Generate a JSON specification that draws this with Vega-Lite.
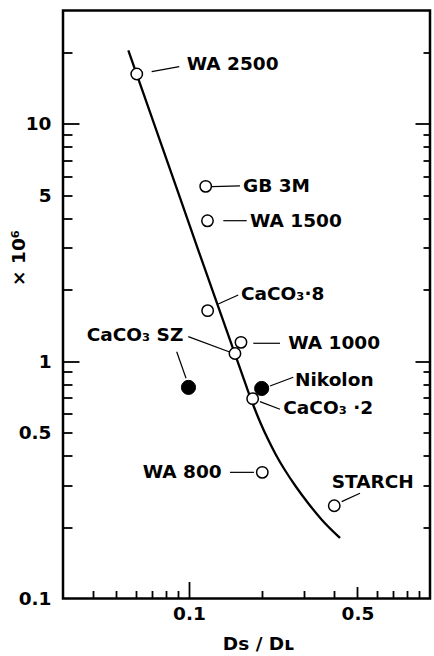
{
  "$schema": "https://vega.github.io/schema/vega-lite/v6.json",
  "width": 367,
  "height": 588,
  "autosize": {"type": "none"},
  "padding": {"left": 63, "top": 10.5, "right": 4, "bottom": 57.5},
  "background": "white",
  "config": {
    "view": {"stroke": "black", "strokeWidth": 2.5},
    "font": "DejaVu Sans",
    "axis": {
      "domain": false,
      "grid": false,
      "tickColor": "black",
      "tickWidth": 1.8,
      "labelFont": "DejaVu Sans",
      "labelFontSize": 18.5,
      "labelFontWeight": "bold",
      "labelColor": "black",
      "titleFont": "DejaVu Sans",
      "titleFontSize": 18.5,
      "titleFontWeight": "bold",
      "titleColor": "black"
    }
  },
  "datasets": {
    "curve": [
      {"ratio": 0.056, "value": 20.4},
      {"ratio": 0.0918, "value": 4.867},
      {"ratio": 0.1707, "value": 0.813},
      {"ratio": 0.1825, "value": 0.6742},
      {"ratio": 0.197, "value": 0.5555},
      {"ratio": 0.2127, "value": 0.4682},
      {"ratio": 0.2296, "value": 0.4024},
      {"ratio": 0.2502, "value": 0.347},
      {"ratio": 0.2779, "value": 0.2957},
      {"ratio": 0.3117, "value": 0.2526},
      {"ratio": 0.3562, "value": 0.2143},
      {"ratio": 0.4231, "value": 0.1799}
    ],
    "open_samples": [
      {"sample": "WA 2500", "ratio": 0.0607, "value": 16.2},
      {"sample": "GB 3M", "ratio": 0.1173, "value": 5.45},
      {"sample": "WA 1500", "ratio": 0.1193, "value": 3.9},
      {"sample": "CaCO3·8", "ratio": 0.1195, "value": 1.632},
      {"sample": "WA 1000", "ratio": 0.1643, "value": 1.2},
      {"sample": "CaCO3 SZ", "ratio": 0.1551, "value": 1.077},
      {"sample": "CaCO3·2", "ratio": 0.1837, "value": 0.695},
      {"sample": "WA 800", "ratio": 0.2014, "value": 0.34},
      {"sample": "STARCH", "ratio": 0.4006, "value": 0.246}
    ],
    "solid_samples": [
      {"sample": "CaCO3 SZ", "ratio": 0.0995, "value": 0.775},
      {"sample": "Nikolon", "ratio": 0.2002, "value": 0.767}
    ],
    "leaders": [
      {"sample": "WA 2500", "r1": 0.07, "v1": 16.57, "r2": 0.0911, "v2": 17.39},
      {"sample": "GB 3M", "r1": 0.1242, "v1": 5.43, "r2": 0.1627, "v2": 5.47},
      {"sample": "WA 1500", "r1": 0.1388, "v1": 3.905, "r2": 0.1735, "v2": 3.905},
      {"sample": "CaCO3·8", "r1": 0.1322, "v1": 1.741, "r2": 0.1601, "v2": 1.9},
      {"sample": "CaCO3 SZ", "r1": 0.0993, "v1": 1.268, "r2": 0.1503, "v2": 1.085},
      {"sample": "CaCO3 SZ", "r1": 0.0889, "v1": 1.096, "r2": 0.0972, "v2": 0.847},
      {"sample": "WA 1000", "r1": 0.1848, "v1": 1.189, "r2": 0.2385, "v2": 1.189},
      {"sample": "Nikolon", "r1": 0.2168, "v1": 0.786, "r2": 0.2708, "v2": 0.855},
      {"sample": "CaCO3·2", "r1": 0.197, "v1": 0.675, "r2": 0.2385, "v2": 0.627},
      {"sample": "WA 800", "r1": 0.1479, "v1": 0.34, "r2": 0.186, "v2": 0.34},
      {"sample": "STARCH", "r1": 0.43, "v1": 0.2559, "r2": 0.5124, "v2": 0.2776}
    ],
    "labels": [
      {"text": "WA 2500", "side": "right", "ratio": 0.0978, "value": 17.85},
      {"text": "GB 3M", "side": "right", "ratio": 0.1675, "value": 5.47},
      {"text": "WA 1500", "side": "right", "ratio": 0.1791, "value": 3.905},
      {"text": "CaCO₃·8", "side": "right", "ratio": 0.1643, "value": 1.913},
      {"text": "WA 1000", "side": "right", "ratio": 0.2582, "value": 1.189},
      {"text": "Nikolon", "side": "right", "ratio": 0.2753, "value": 0.833},
      {"text": "CaCO₃ ·2", "side": "right", "ratio": 0.2461, "value": 0.635},
      {"text": "STARCH", "side": "right", "ratio": 0.3908, "value": 0.3107},
      {"text": "CaCO₃ SZ", "side": "left", "ratio": 0.0947, "value": 1.289},
      {"text": "WA 800", "side": "left", "ratio": 0.1366, "value": 0.34}
    ]
  },
  "resolve": {"axis": {"x": "independent", "y": "independent"}},
  "layer": [
    {
      "data": {"name": "curve"},
      "mark": {"type": "line", "color": "black", "strokeWidth": 2.3, "interpolate": "monotone"},
      "encoding": {
        "x": {
          "field": "ratio", "type": "quantitative",
          "scale": {"type": "log", "domain": [0.03, 1], "nice": false},
          "axis": {
            "orient": "bottom", "values": [0.1, 0.5], "format": "~g",
            "ticks": false, "tickSize": 0, "labelPadding": 6,
            "title": "Dꜱ / Dʟ", "titleX": 195, "titleY": 51, "titleBaseline": "alphabetic", "titleAlign": "center"
          }
        },
        "y": {
          "field": "value", "type": "quantitative",
          "scale": {"type": "log", "domain": [0.1, 30], "nice": false},
          "axis": {
            "orient": "left", "values": [0.1, 0.5, 1, 5, 10], "format": "~g",
            "ticks": false, "tickSize": 0, "labelPadding": 12,
            "title": "× 10⁶", "titleX": -45, "titleY": 247, "titleBaseline": "middle", "titleAngle": -90
          }
        }
      }
    },
    {
      "data": {"name": "leaders"},
      "mark": {"type": "rule", "color": "black", "strokeWidth": 1.2},
      "encoding": {
        "x": {
          "field": "r1", "type": "quantitative",
          "scale": {"type": "log", "domain": [0.03, 1], "nice": false},
          "axis": {
            "orient": "bottom", "values": [0.04, 0.05, 0.06, 0.07, 0.08, 0.09, 0.2, 0.3, 0.4, 0.6, 0.7, 0.8, 0.9],
            "labels": false, "ticks": true, "tickSize": -8, "title": null
          }
        },
        "y": {
          "field": "v1", "type": "quantitative",
          "scale": {"type": "log", "domain": [0.1, 30], "nice": false},
          "axis": {
            "orient": "left", "values": [0.2, 0.3, 0.4, 0.5, 0.6, 0.7, 0.8, 0.9, 2, 3, 4, 5, 6, 7, 8, 9, 20],
            "labels": false, "ticks": true, "tickSize": -9, "title": null
          }
        },
        "x2": {"field": "r2"},
        "y2": {"field": "v2"}
      }
    },
    {
      "data": {"name": "open_samples"},
      "mark": {"type": "point", "shape": "circle", "filled": true, "fill": "white", "stroke": "black", "strokeWidth": 1.5, "size": 130, "opacity": 1},
      "encoding": {
        "x": {
          "field": "ratio", "type": "quantitative",
          "scale": {"type": "log", "domain": [0.03, 1], "nice": false},
          "axis": {"orient": "bottom", "values": [0.1], "labels": false, "ticks": true, "tickSize": -17, "title": null}
        },
        "y": {
          "field": "value", "type": "quantitative",
          "scale": {"type": "log", "domain": [0.1, 30], "nice": false},
          "axis": {"orient": "left", "values": [1, 10], "labels": false, "ticks": true, "tickSize": -16, "title": null}
        }
      }
    },
    {
      "data": {"name": "solid_samples"},
      "mark": {"type": "point", "shape": "circle", "filled": true, "fill": "black", "stroke": "black", "strokeWidth": 1, "size": 200, "opacity": 1},
      "encoding": {
        "x": {
          "field": "ratio", "type": "quantitative",
          "scale": {"type": "log", "domain": [0.03, 1], "nice": false},
          "axis": {"orient": "bottom", "values": [0.5], "labels": false, "ticks": true, "tickSize": -12, "title": null}
        },
        "y": {
          "field": "value", "type": "quantitative",
          "scale": {"type": "log", "domain": [0.1, 30], "nice": false},
          "axis": {
            "orient": "right", "values": [0.2, 0.3, 0.4, 0.5, 0.6, 0.7, 0.8, 0.9, 2, 3, 4, 5, 6, 7, 8, 9, 20],
            "labels": false, "ticks": true, "tickSize": -7, "title": null
          }
        }
      }
    },
    {
      "data": {"name": "labels"},
      "transform": [{"filter": "datum.side === 'right'"}],
      "mark": {"type": "text", "align": "left", "baseline": "middle", "font": "DejaVu Sans", "fontSize": 18.5, "fontWeight": "bold", "color": "black"},
      "encoding": {
        "x": {
          "field": "ratio", "type": "quantitative",
          "scale": {"type": "log", "domain": [0.03, 1], "nice": false},
          "axis": null
        },
        "y": {
          "field": "value", "type": "quantitative",
          "scale": {"type": "log", "domain": [0.1, 30], "nice": false},
          "axis": {"orient": "right", "values": [1, 10], "labels": false, "ticks": true, "tickSize": -15, "title": null}
        },
        "text": {"field": "text"}
      }
    },
    {
      "data": {"name": "labels"},
      "transform": [{"filter": "datum.side === 'left'"}],
      "mark": {"type": "text", "align": "right", "baseline": "middle", "font": "DejaVu Sans", "fontSize": 18.5, "fontWeight": "bold", "color": "black"},
      "encoding": {
        "x": {
          "field": "ratio", "type": "quantitative",
          "scale": {"type": "log", "domain": [0.03, 1], "nice": false},
          "axis": null
        },
        "y": {
          "field": "value", "type": "quantitative",
          "scale": {"type": "log", "domain": [0.1, 30], "nice": false},
          "axis": null
        },
        "text": {"field": "text"}
      }
    }
  ]
}
